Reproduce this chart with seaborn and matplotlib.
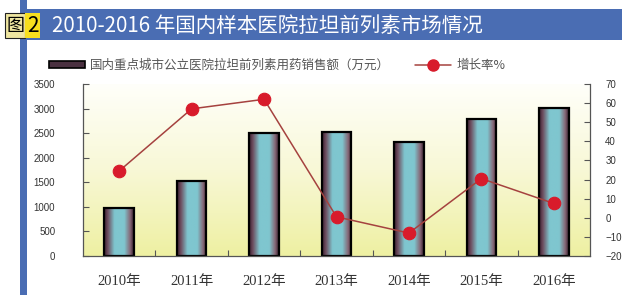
import numpy as np
import pandas as pd
import matplotlib
matplotlib.use('Agg')
import matplotlib.pyplot as plt
import seaborn as sns
from matplotlib.colors import LinearSegmentedColormap
from matplotlib.patches import Rectangle
from matplotlib.lines import Line2D

# ---- data ----
years = ['2010年', '2011年', '2012年', '2013年', '2014年', '2015年', '2016年']
sales = [980, 1530, 2505, 2530, 2315, 2785, 3005]
growth = [24.5, 57, 62, 0.5, -8, 20.5, 7.5]
left_ticks = [0, 500, 1000, 1500, 2000, 2500, 3000, 3500]
right_ticks = [-20, -10, 0, 10, 20, 30, 40, 50, 60, 70]
title = '2010-2016 年国内样本医院拉坦前列素市场情况'
bar_label = '国内重点城市公立医院拉坦前列素用药销售额（万元）'
line_label = '增长率%'

sns.set_theme(style='white')
plt.rcParams['font.family'] = ['Liberation Sans', 'Noto Sans CJK SC', 'DejaVu Sans']

W, H = 640, 295
fig = plt.figure(figsize=(6.4, 2.95), dpi=100)
fig.patch.set_facecolor('white')

# ---- banner ----
blue = '#4a6db3'
fig.patches.append(Rectangle((20 / W, 0), 7 / W, 1, transform=fig.transFigure,
                             facecolor=blue, edgecolor='none', zorder=0))
fig.patches.append(Rectangle((20 / W, 1 - 40 / H), (622 - 20) / W, 31 / H,
                             transform=fig.transFigure, facecolor=blue,
                             edgecolor='none', zorder=1))
fig.patches.append(Rectangle((5 / W, 1 - 38 / H), 20 / W, 25 / H,
                             transform=fig.transFigure, facecolor='#efe6a0',
                             edgecolor='#222222', linewidth=0.8, zorder=2))
fig.patches.append(Rectangle((25 / W, 1 - 38 / H), 15 / W, 25 / H,
                             transform=fig.transFigure, facecolor='#f7df1e',
                             edgecolor='none', zorder=2))
fig.text(15 / W, 1 - 25.5 / H, '图', ha='center', va='center', fontsize=13,
         color='black', family=['Noto Sans CJK SC'], zorder=3)
fig.text(32.5 / W, 1 - 25.5 / H, '2', ha='center', va='center', fontsize=15,
         color='black', family=['Noto Sans CJK SC'], zorder=3)
fig.text(52 / W, 1 - 25.5 / H, title, ha='left', va='center', fontsize=14.8,
         color='white', family=['Noto Sans CJK SC', 'DejaVu Sans'], zorder=3)

# ---- axes ----
rect = [83 / W, 1 - 256 / H, (590 - 83) / W, (256 - 84) / H]
bg = fig.add_axes(rect, zorder=0)
grad = np.linspace(0, 1, 256).reshape(-1, 1)
bgcmap = LinearSegmentedColormap.from_list('bg', ['#fffffa', '#f8f8d6', '#eef0a2'])
bg.imshow(grad, cmap=bgcmap, aspect='auto', extent=[0, 1, 0, 1], origin='upper')
bg.axis('off')

ax = fig.add_axes(rect, zorder=1)
ax.set_facecolor('none')
df = pd.DataFrame({'year': years, 'sales': sales, 'growth': growth})
sns.barplot(data=df, x='year', y='sales', ax=ax, width=0.41, color='#7fc6cf',
            edgecolor='black', linewidth=1.6)

barcmap = LinearSegmentedColormap.from_list(
    'bar', [(0, '#3a2030'), (0.12, '#6e4d5e'), (0.35, '#7fc6cf'),
            (0.68, '#7fc6cf'), (0.88, '#866877'), (1, '#3a2030')])
hgrad = np.linspace(0, 1, 64).reshape(1, -1)
for p in ax.patches:
    x, y = p.get_x(), p.get_y()
    w, h = p.get_width(), p.get_height()
    ax.imshow(hgrad, cmap=barcmap, aspect='auto', extent=[x, x + w, y, y + h],
              zorder=1.5)
    p.set_facecolor('none')
    p.set_zorder(2)

ax.set_xlim(-0.5, 6.5)
ax.set_ylim(0, 3500)
ax.set_yticks(left_ticks)
ax.set_xlabel('')
ax.set_ylabel('')

ax2 = ax.twinx()
sns.pointplot(data=df, x='year', y='growth', ax=ax2, color='#a5423f',
              markers='o', markersize=9, linewidth=1.1,
              markerfacecolor='#d81b2b', markeredgecolor='#d81b2b')
ax2.set_xlim(-0.5, 6.5)
ax2.set_ylim(-20, 70)
ax2.set_yticks(right_ticks)
ax2.set_ylabel('')
ax2.set_xlabel('')
ax.set_xlabel('')

spc = '#555555'
for a in (ax, ax2):
    a.spines['top'].set_visible(False)
    for s in ('left', 'right', 'bottom'):
        a.spines[s].set_color(spc)
        a.spines[s].set_linewidth(0.9)
ax.spines['right'].set_visible(False)
ax2.spines['left'].set_visible(False)
ax2.spines['bottom'].set_visible(False)

ax.tick_params(axis='y', direction='in', length=4, width=0.8, color=spc,
               labelsize=7, labelcolor='#333333', pad=20, left=True)
ax2.tick_params(axis='y', direction='in', length=4, width=0.8, color=spc,
                labelsize=7, labelcolor='#333333', pad=11, right=True)
ax.set_xticks(np.arange(0.5, 6, 1), minor=True)
ax.tick_params(axis='x', which='major', length=0, pad=14, labelsize=10.5,
               labelcolor='#333333')
ax.tick_params(axis='x', which='minor', direction='in', length=4, width=0.8,
               color=spc, bottom=True)
ax.set_xticks(range(len(years)))
ax.set_xticklabels(years, family=['Liberation Serif', 'Noto Sans CJK SC'])
ax2.tick_params(axis='x', which='both', length=0, labelbottom=False)

# ---- legend ----
handles = [Rectangle((0, 0), 1, 1, facecolor='#4a3040', edgecolor='black',
                     linewidth=1.2),
           Line2D([], [], color='#a5423f', linewidth=1.1, marker='o',
                  markersize=8, markerfacecolor='#d81b2b',
                  markeredgecolor='#d81b2b')]
fig.legend(handles, [bar_label, line_label], loc='center',
           bbox_to_anchor=(277 / W, 1 - 65 / H), ncol=2, frameon=False,
           prop={'family': ['Noto Sans CJK SC'], 'size': 9},
           labelcolor='#555555', handlelength=2.9, handleheight=0.5,
           handletextpad=0.4, columnspacing=2.0)

fig.savefig('out.png', dpi=100, facecolor='white')
